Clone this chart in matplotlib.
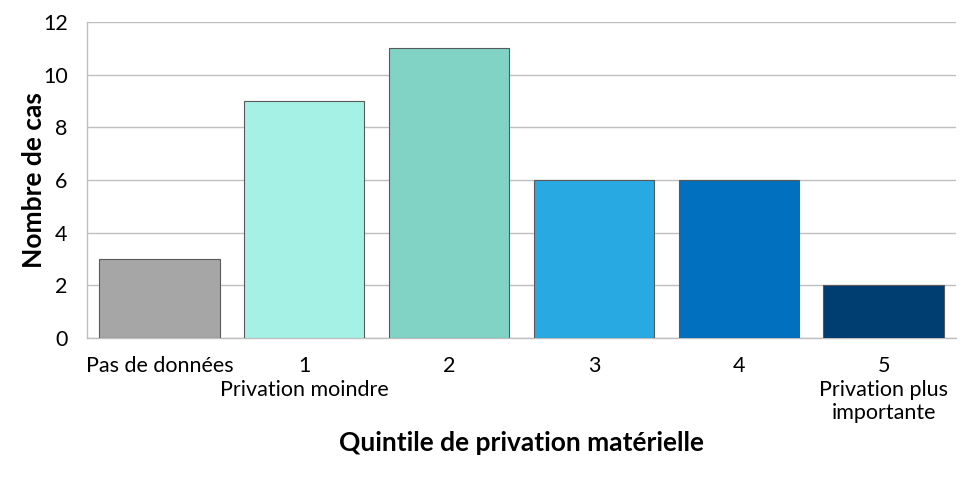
import matplotlib.pyplot as plt

# =========================
# DATA
# =========================
categories = ["Pas de données", "1\nPrivation moindre", "2", "3", "4",
              "5\nPrivation plus\nimportante"]
cases = [3, 9, 11, 6, 6, 2]
bar_colors = ["#A6A6A6", "#A6F1E5", "#80D3C5", "#29A9E1", "#0070BF", "#003D70"]

plt.rcParams["font.family"] = ["Lato", "DejaVu Sans"]

# =========================
# CHART
# =========================
fig = plt.figure(figsize=(9.8, 4.87), dpi=100)
ax = fig.add_axes([0.0888, 0.306, 0.8867, 0.6487])

x = range(len(categories))
ax.bar(x, cases, width=0.83, color=bar_colors, edgecolor="#595959",
       linewidth=0.8, zorder=3)

ax.set_xlim(-0.5, len(categories) - 0.5)
ax.set_ylim(0, 12)
ax.set_yticks(range(0, 13, 2))
ax.set_xticks(list(x))
ax.set_xticklabels(categories, fontsize=15.5, linespacing=1.22, va="top")
ax.tick_params(axis="y", labelsize=15.5, length=0, pad=14)
ax.tick_params(axis="x", length=0, pad=13)

ax.yaxis.grid(True, color="#BFBFBF", linewidth=1.0, zorder=0)
for side in ["top", "right"]:
    ax.spines[side].set_visible(False)
ax.spines["left"].set_color("#BFBFBF")
ax.spines["bottom"].set_color("#BFBFBF")
ax.spines["left"].set_linewidth(1.0)
ax.spines["bottom"].set_linewidth(1.0)

ax.set_ylabel("Nombre de cas", fontsize=19, fontweight="bold", labelpad=-2)
ax.set_xlabel("Quintile de privation matérielle", fontsize=19,
              fontweight="bold", labelpad=6)

plt.savefig("out.png", dpi=100)
plt.close()
